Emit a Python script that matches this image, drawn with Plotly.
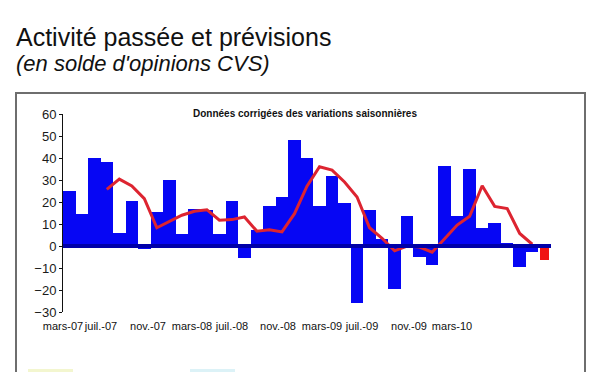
import plotly.graph_objects as go

# ---- data ----
months = ["mars-07","avr.-07","mai-07","juin-07","juil.-07","août-07","sept.-07","oct.-07",
          "nov.-07","déc.-07","janv.-08","févr.-08","mars-08","avr.-08","mai-08","juin-08",
          "juil.-08","août-08","sept.-08","oct.-08","nov.-08","déc.-08","janv.-09","févr.-09",
          "mars-09","avr.-09","mai-09","juin-09","juil.-09","août-09","sept.-09","oct.-09",
          "nov.-09","déc.-09","janv.-10","févr.-10","mars-10","avr.-10","mai-10"]

activite = [25, 14.5, 40, 38, 6, 20.5, -1.5, 15.5, 30, 5.5,
            17, 16.5, 5.5, 20.5, -5.5, 7.5, 18, 22.5, 48, 40,
            18, 32, 19.5, -26, 16.5, 3, -19.5, 13.5, -5, -8.5,
            36.5, 13.5, 35, 8, 10.5, 1.5, -9.5, -2.5]
prevision = [-6.5]

moyenne = [25.7, 30.4, 27.3, 21.5, 8.3, 11.3, 14, 15.8, 16.5, 11.7,
           12, 13.2, 6.7, 7.4, 6.4, 14.7, 27.2, 36, 34.5, 29.1,
           22.3, 8.3, 3.5, -2.2, 0, -0.5, -2.8, 3.3, 9.5, 13.5,
           27.4, 18, 17, 5.7, 0.8]
moyenne_start = 3

tick_labels = ["mars-07", "juil.-07", "nov.-07", "mars-08", "juil.-08",
               "nov.-08", "mars-09", "juil.-09", "nov.-09", "mars-10"]
tick_pos = [-0.5, 2.54, 6.29, 9.81, 13.0, 16.68, 20.2, 23.4, 27.15, 30.59]

y_ticks = [60, 50, 40, 30, 20, 10, 0, -10, -20, -30]

# ---- figure ----
idx_act = list(range(len(activite)))
idx_prev = list(range(len(activite), len(activite) + len(prevision)))
idx_moy = list(range(moyenne_start, moyenne_start + len(moyenne)))

fig = go.Figure()
fig.add_trace(go.Bar(x=idx_act, y=activite, marker=dict(color="#0606f4", line=dict(width=0)),
                     customdata=months[:len(activite)], showlegend=False))
fig.add_trace(go.Bar(x=idx_prev, y=prevision, width=0.75,
                     marker=dict(color="#f01414", line=dict(width=0)), showlegend=False))
fig.add_trace(go.Scatter(x=idx_moy, y=moyenne, mode="lines",
                         line=dict(color="#dd2430", width=3), showlegend=False))

OFF = 8  # default page body margin
W, H = 600, 372
L, T = 63 - OFF, 114 - OFF
R = W - (551 - OFF)
B = H - (312 - OFF)
pw, ph = W - L - R, H - T - B

def px(x):
    return (x - OFF - L) / pw

def py(y):
    return (H - B - (y - OFF)) / ph

fig.update_layout(
    width=W, height=H,
    margin=dict(l=L, r=R, t=T, b=B, pad=0, autoexpand=False),
    paper_bgcolor="white", plot_bgcolor="white",
    bargap=0,
    font=dict(family="Liberation Sans, Arial, sans-serif", color="#1a1a1a"),
    xaxis=dict(range=[-0.5, 38.5], showgrid=False, zeroline=False, showline=False,
               automargin=False, tickangle=0,
               tickmode="array", tickvals=tick_pos, ticktext=tick_labels,
               ticks="outside", ticklen=4, tickcolor="rgba(0,0,0,0)",
               tickfont=dict(size=11, color="#111")),
    yaxis=dict(range=[-30, 60], showgrid=False, zeroline=False, automargin=False,
               showline=True, linecolor="#111", linewidth=1,
               tickmode="array", tickvals=y_ticks,
               ticks="outside", ticklen=3, tickcolor="#111",
               tickfont=dict(size=13, color="#1a1a1a")),
    shapes=[
        dict(type="line", xref="paper", yref="y", x0=0, x1=1, y0=0, y1=0,
             line=dict(color="#0000a8", width=4), layer="above"),
        dict(type="rect", xref="paper", yref="paper",
             x0=px(16), x1=px(585), y0=py(93), y1=py(420),
             line=dict(color="#6e6e6e", width=2), fillcolor="rgba(0,0,0,0)", layer="below"),
        dict(type="rect", xref="paper", yref="paper",
             x0=px(28), x1=px(73), y0=py(369), y1=py(380),
             line=dict(width=0), fillcolor="#f3f6cf", layer="below"),
        dict(type="rect", xref="paper", yref="paper",
             x0=px(190), x1=px(235), y0=py(369), y1=py(380),
             line=dict(width=0), fillcolor="#dcf2f7", layer="below"),
    ],
    annotations=[
        dict(text="Activité passée et prévisions", xref="paper", yref="paper",
             x=px(14), y=py(37), xanchor="left", yanchor="middle", showarrow=False,
             font=dict(size=25, color="#111")),
        dict(text="<i>(en solde d'opinions CVS)</i>", xref="paper", yref="paper",
             x=px(14), y=py(63), xanchor="left", yanchor="middle", showarrow=False,
             font=dict(size=22, color="#111")),
        dict(text="<b>Données corrigées des variations saisonnières</b>", xref="paper", yref="paper",
             x=px(305), y=py(113), xanchor="center", yanchor="middle", showarrow=False,
             font=dict(size=10, color="#111")),
    ],
)

fig.write_html("out.html")
